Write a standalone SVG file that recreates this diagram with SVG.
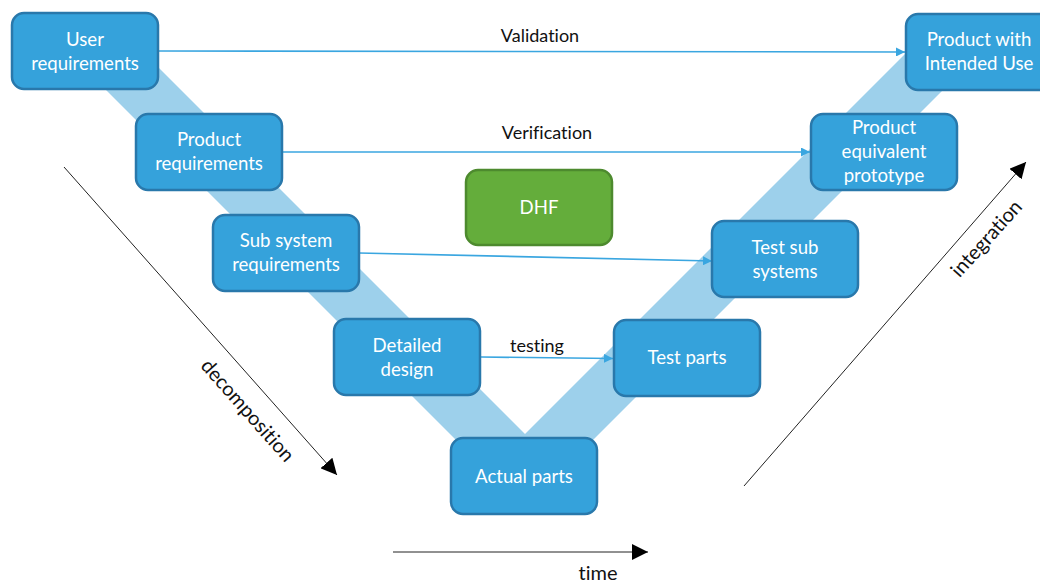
<svg xmlns="http://www.w3.org/2000/svg" width="1040" height="583" viewBox="0 0 1040 583">
<defs>
<style>
text{font-variant-ligatures:none}
.node{fill:#35a2db;stroke:#2978ab;stroke-width:2.5}
.dhf{fill:#64ad3b;stroke:#4d8a2e;stroke-width:2.5}
.nt{font-family:Lato,"Liberation Sans",sans-serif;font-size:18.6px;fill:#ffffff;text-anchor:middle}
.lbl{font-family:Lato,"Liberation Sans",sans-serif;font-size:18px;fill:#111111;text-anchor:middle}
.big{font-family:Lato,"Liberation Sans",sans-serif;font-size:20px;fill:#111111;text-anchor:middle}
.bl{stroke:#3aa6e0;stroke-width:1.6;fill:none}
.blk{stroke:#222222;stroke-width:1;fill:none}
</style>
<marker id="ab" viewBox="0 0 10 10" refX="10" refY="5" markerWidth="9" markerHeight="9" markerUnits="userSpaceOnUse" orient="auto"><path d="M0,0 L10,5 L0,10 z" fill="#3aa6e0"/></marker>
<marker id="ak" viewBox="0 0 10 10" refX="10" refY="5" markerWidth="16" markerHeight="16" markerUnits="userSpaceOnUse" orient="auto"><path d="M0,0 L10,5 L0,10 z" fill="#000000"/></marker>
</defs>
<rect width="1040" height="583" fill="#ffffff"/>
<polygon id="band" points="103,12 525,434 940,19 977,56 524.5,508.5 65.5,49.5" fill="#9dd0eb"/>
<g id="connectors">
<line class="bl" x1="158" y1="51" x2="905" y2="52" marker-end="url(#ab)"/>
<line class="bl" x1="283" y1="152" x2="810" y2="152" marker-end="url(#ab)"/>
<line class="bl" x1="359" y1="253" x2="712" y2="261" marker-end="url(#ab)"/>
<line class="bl" x1="481" y1="357" x2="613" y2="358.5" marker-end="url(#ab)"/>
<line class="blk" x1="64" y1="167" x2="337" y2="475" marker-end="url(#ak)"/>
<line class="blk" x1="744" y1="486" x2="1026" y2="162" marker-end="url(#ak)"/>
<line class="blk" x1="393" y1="552" x2="648" y2="552" marker-end="url(#ak)"/>
<text class="lbl" x="540" y="42">Validation</text>
<text class="lbl" x="547" y="139">Verification</text>
<text class="lbl" x="537" y="352">testing</text>
<text class="big" x="598" y="580">time</text>
<text class="big" transform="translate(247,411) rotate(48.5)" y="6">decomposition</text>
<text class="big" transform="translate(987,239) rotate(-48)" y="6">integration</text>
</g>
<g id="user-req"><rect class="node" x="12" y="13" width="146" height="76" rx="12"/><text class="nt" x="85" y="46">User</text><text class="nt" x="85" y="70">requirements</text></g>
<g id="product-req"><rect class="node" x="136" y="114" width="146" height="76" rx="12"/><text class="nt" x="209" y="146">Product</text><text class="nt" x="209" y="170">requirements</text></g>
<g id="subsys-req"><rect class="node" x="213" y="215" width="146" height="76" rx="12"/><text class="nt" x="286" y="247">Sub system</text><text class="nt" x="286" y="271">requirements</text></g>
<g id="detailed-design"><rect class="node" x="334" y="319" width="146" height="76" rx="12"/><text class="nt" x="407" y="352">Detailed</text><text class="nt" x="407" y="376">design</text></g>
<g id="actual-parts"><rect class="node" x="451" y="438" width="146" height="76" rx="12"/><text class="nt" x="524" y="483">Actual parts</text></g>
<g id="test-parts"><rect class="node" x="614" y="320" width="146" height="76" rx="12"/><text class="nt" x="687" y="364">Test parts</text></g>
<g id="test-subsys"><rect class="node" x="712" y="221" width="146" height="76" rx="12"/><text class="nt" x="785" y="254">Test sub</text><text class="nt" x="785" y="278">systems</text></g>
<g id="prod-equiv"><rect class="node" x="811" y="114" width="146" height="76" rx="12"/><text class="nt" x="884" y="134">Product</text><text class="nt" x="884" y="158">equivalent</text><text class="nt" x="884" y="182">prototype</text></g>
<g id="prod-intended"><rect class="node" x="906" y="14" width="146" height="76" rx="12"/><text class="nt" x="979" y="46">Product with</text><text class="nt" x="979" y="70">Intended Use</text></g>
<g id="dhf"><rect class="dhf" x="466" y="170" width="146" height="75" rx="12"/><text class="nt" x="539" y="214">DHF</text></g>
</svg>
